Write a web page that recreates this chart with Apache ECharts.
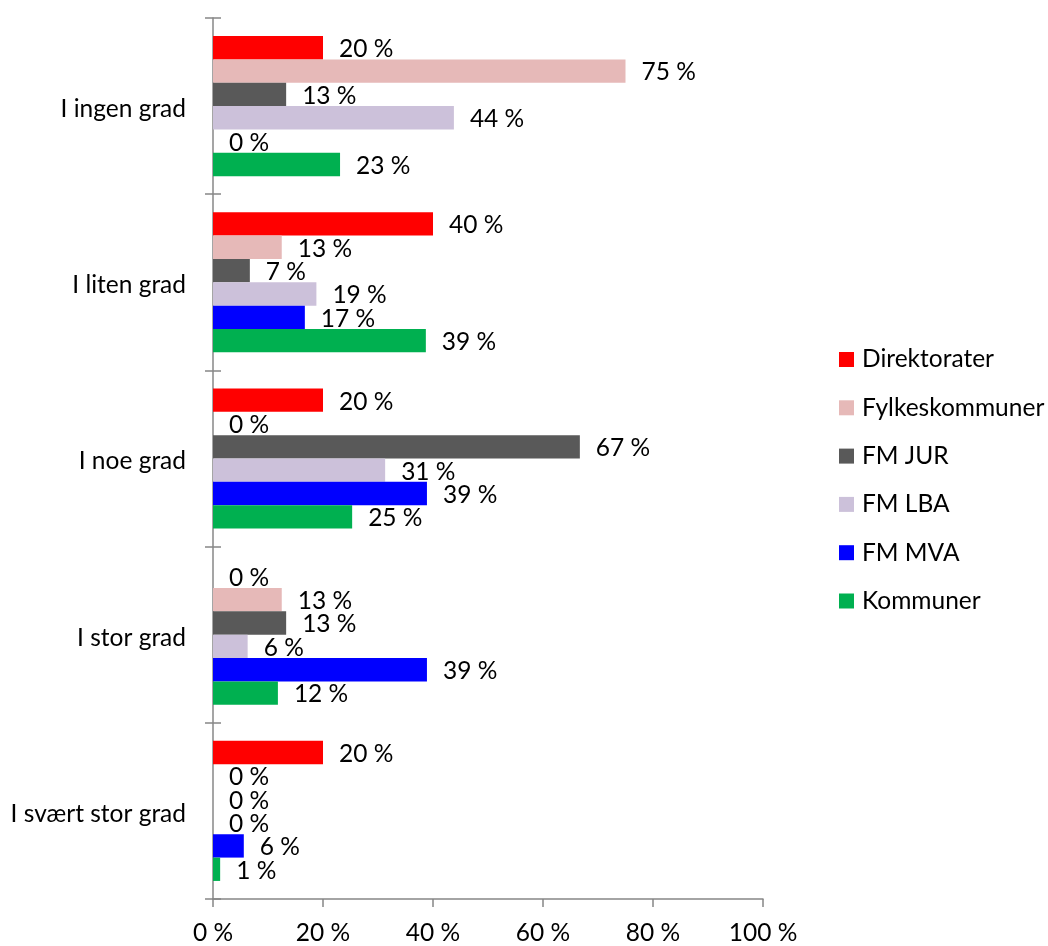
<!DOCTYPE html>
<html>
<head>
<meta charset="utf-8">
<script src="https://cdn.jsdelivr.net/npm/echarts@6/dist/echarts.min.js"></script>
<style>
html,body{margin:0;padding:0;background:#fff;}
#chart{width:1048px;height:946px;}
</style>
</head>
<body>
<div id="chart"></div>
<script>
var categories = ['I ingen grad', 'I liten grad', 'I noe grad', 'I stor grad', 'I svært stor grad'];
var seriesNames = ['Direktorater', 'Fylkeskommuner', 'FM JUR', 'FM LBA', 'FM MVA', 'Kommuner'];
var direktorater   = [20, 40, 20, 0, 20];
var fylkeskommuner = [75, 12.5, 0, 12.5, 0];
var fmJur          = [13.3, 6.7, 66.7, 13.3, 0];
var fmLba          = [43.8, 18.8, 31.3, 6.3, 0];
var fmMva          = [0, 16.7, 38.9, 38.9, 5.6];
var kommuner       = [23.1, 38.7, 25.3, 11.8, 1.3];
var xTicks = [0, 20, 40, 60, 80, 100];

var colors = ['#FF0000', '#E6B9B8', '#595959', '#CCC1DA', '#0000FF', '#00B050'];
var values = [direktorater, fylkeskommuner, fmJur, fmLba, fmMva, kommuner];
var FONT = 'Lato';
var FS = 24.5;
var axisColor = '#878787';

var chart = echarts.init(document.getElementById('chart'), null, {renderer: 'canvas'});
var series = seriesNames.map(function (name, i) {
  return {
    name: name,
    type: 'bar',
    yAxisIndex: 0,
    data: values[i],
    barGap: '0%',
    barCategoryGap: '20.5%',
    itemStyle: {color: colors[i]},
    label: {
      show: true,
      position: 'right',
      distance: 16,
      offset: [0, 1.5],
      color: '#000',
      fontFamily: FONT,
      fontSize: FS,
      formatter: function (p) { return Math.round(p.value) + ' %'; }
    },
    emphasis: {disabled: true},
    animation: false
  };
});

chart.setOption({
  animation: false,
  textStyle: {fontFamily: FONT},
  grid: {left: 213, right: 285, top: 18, bottom: 43},
  legend: {
    orient: 'vertical',
    left: 839,
    top: 347,
    padding: 0,
    itemWidth: 15,
    itemHeight: 15,
    itemGap: 23.3,
    icon: 'rect',
    data: seriesNames,
    textStyle: {fontFamily: FONT, fontSize: FS, color: '#000', padding: [2, 0, 0, 3]}
  },
  xAxis: {
    type: 'value',
    min: xTicks[0],
    max: xTicks[xTicks.length - 1],
    interval: 20,
    splitLine: {show: false},
    axisLine: {show: true, lineStyle: {color: axisColor, width: 1.5}},
    axisTick: {show: true, inside: false, length: 8, lineStyle: {color: axisColor, width: 1.5}},
    axisLabel: {
      margin: 22,
      color: '#000',
      fontFamily: FONT,
      fontSize: FS,
      formatter: function (v) { return v + ' %'; }
    }
  },
  yAxis: [{
    type: 'category',
    data: categories,
    inverse: true,
    axisLine: {show: true, lineStyle: {color: axisColor, width: 1.5}},
    axisTick: {show: true, inside: false, length: 8, lineStyle: {color: axisColor, width: 1.5}},
    axisLabel: {
      margin: 27,
      formatter: function (v) { return '{a|' + v + '}'; },
      rich: {a: {color: '#000', fontFamily: FONT, fontSize: FS, padding: [6, 0, 0, 0]}}
    }
  }, {
    type: 'category',
    data: categories,
    inverse: true,
    position: 'left',
    axisLine: {show: false},
    axisTick: {show: true, inside: true, length: 8, lineStyle: {color: axisColor, width: 1.5}},
    axisLabel: {show: false}
  }],
  series: series
});
</script>
</body>
</html>
